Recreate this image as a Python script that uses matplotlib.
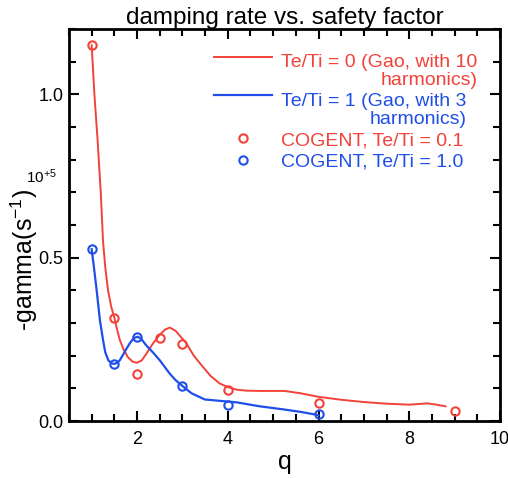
import matplotlib
matplotlib.use("Agg")
import numpy as np
import matplotlib.pyplot as plt
from matplotlib.ticker import MultipleLocator
from matplotlib.legend_handler import HandlerLine2D

plt.rcParams["font.family"] = ["Liberation Sans", "DejaVu Sans"]
plt.rcParams["mathtext.default"] = "regular"

# === Data (units of 1e5 s^-1) ===
# Gao, Te/Ti = 0, 10 harmonics
red_q = [1.0, 1.06, 1.13, 1.2, 1.25, 1.3, 1.36, 1.43, 1.5, 1.56, 1.62, 1.7, 1.8, 1.9, 1.99,
         2.1, 2.2, 2.35, 2.5, 2.62, 2.72, 2.85, 3.0, 3.09, 3.25, 3.45, 3.62, 3.82, 4.0,
         4.19, 4.4, 4.7, 5.0, 5.25, 5.6, 6.0, 6.5, 7.0, 7.5, 8.0, 8.2, 8.4, 8.6, 8.8]
red_gamma = [1.15, 1.0, 0.86, 0.7, 0.55, 0.47, 0.40, 0.35, 0.316, 0.28, 0.248, 0.22, 0.195, 0.182, 0.178,
             0.185, 0.205, 0.237, 0.264, 0.28, 0.286, 0.276, 0.252, 0.237, 0.2, 0.166, 0.138, 0.115, 0.104,
             0.096, 0.093, 0.092, 0.092, 0.092, 0.085, 0.074, 0.065, 0.058, 0.053, 0.050, 0.052, 0.054, 0.050, 0.045]

# Gao, Te/Ti = 1, 3 harmonics
blue_q = [1.0, 1.05, 1.11, 1.18, 1.25, 1.3, 1.37, 1.45, 1.5, 1.56, 1.62, 1.7, 1.77, 1.85, 1.93,
          2.02, 2.1, 2.2, 2.35, 2.5, 2.72, 2.85, 3.01, 3.2, 3.49, 3.8, 4.2, 4.7, 5.2, 5.6, 6.0]
blue_gamma = [0.526, 0.47, 0.40, 0.31, 0.248, 0.21, 0.185, 0.176, 0.175, 0.178, 0.186, 0.205, 0.222, 0.24, 0.254,
              0.258, 0.25, 0.232, 0.21, 0.186, 0.145, 0.125, 0.106, 0.085, 0.066, 0.062, 0.057, 0.045, 0.036, 0.028, 0.018]

# COGENT runs
cog01_q = [1.0, 1.5, 2.0, 2.5, 3.0, 4.0, 6.0, 9.0]
cog01_gamma = [1.152, 0.316, 0.144, 0.253, 0.236, 0.094, 0.054, 0.032]
cog10_q = [1.0, 1.5, 2.0, 3.0, 4.0, 6.0]
cog10_gamma = [0.526, 0.176, 0.258, 0.106, 0.050, 0.020]

labels = ["Te/Ti = 0 (Gao, with 10\nharmonics)", "Te/Ti = 1 (Gao, with 3\nharmonics)",
          "COGENT, Te/Ti = 0.1", "COGENT, Te/Ti = 1.0"]

red = "#f2423a"
blue = "#1f4fe8"


# legend line sits on the first text line, not between the two
class TopLineHandler(HandlerLine2D):
    def create_artists(self, legend, orig_handle, xdescent, ydescent, width, height, fontsize, trans):
        arts = super().create_artists(legend, orig_handle, xdescent, ydescent, width, height, fontsize, trans)
        for a in arts:
            a.set_ydata(np.asarray(a.get_ydata()) + 0.75 * fontsize)
        return arts


# === Plot ===
fig = plt.figure(figsize=(5.08, 4.78), dpi=100)
ax = fig.add_axes([69 / 508, 1 - 421 / 478, 431 / 508, 392 / 478])

l1, = ax.plot(red_q, red_gamma, color=red, lw=1.4, label=labels[0])
l2, = ax.plot(blue_q, blue_gamma, color=blue, lw=1.6, label=labels[1])
ax.plot(cog01_q, cog01_gamma, "o", color=red, ms=6, mfc="none", mec=red, mew=1.5, label=labels[2])
ax.plot(cog10_q, cog10_gamma, "o", color=blue, ms=6, mfc="none", mec=blue, mew=1.5, label=labels[3])

ax.set_xlim(0.5, 10)
ax.set_ylim(0, 1.2)
ax.xaxis.set_major_locator(MultipleLocator(2))
ax.xaxis.set_minor_locator(MultipleLocator(0.5))
ax.yaxis.set_major_locator(MultipleLocator(0.5))
ax.yaxis.set_minor_locator(MultipleLocator(0.1))
ax.xaxis.set_major_formatter(lambda v, p: f"{v:g}")
ax.yaxis.set_major_formatter(lambda v, p: f"{v:.1f}")
ax.tick_params(which="both", direction="in", top=True, right=True, width=1.5, labelsize=13)
ax.tick_params(axis="x", pad=7)
ax.tick_params(axis="y", pad=4)
ax.tick_params(which="major", length=7)
ax.tick_params(which="minor", length=5)
for s in ax.spines.values():
    s.set_linewidth(2)

ax.set_title("damping rate vs. safety factor", fontsize=17.5, pad=0)
ax.set_xlabel("q", fontsize=18, labelpad=2)
ax.set_ylabel("-gamma(s$^{-1}$)", fontsize=18)
ax.yaxis.set_label_coords(-0.068, 0.41)
fig.text(26 / 508, 1 - 177 / 478, "10$^{+5}$", fontsize=11, va="center")

leg = ax.legend(loc="upper right", frameon=False, fontsize=14, handlelength=3.0,
                handletextpad=0.45, labelspacing=0.2, borderaxespad=0,
                bbox_to_anchor=(0.965, 0.955),
                handler_map={l1: TopLineHandler(), l2: TopLineHandler()})
for t, c in zip(leg.get_texts(), [red, blue, red, blue]):
    t.set_color(c)
    t.set_multialignment("right")
    t.set_linespacing(1.05)

fig.savefig("out.png", dpi=100)
